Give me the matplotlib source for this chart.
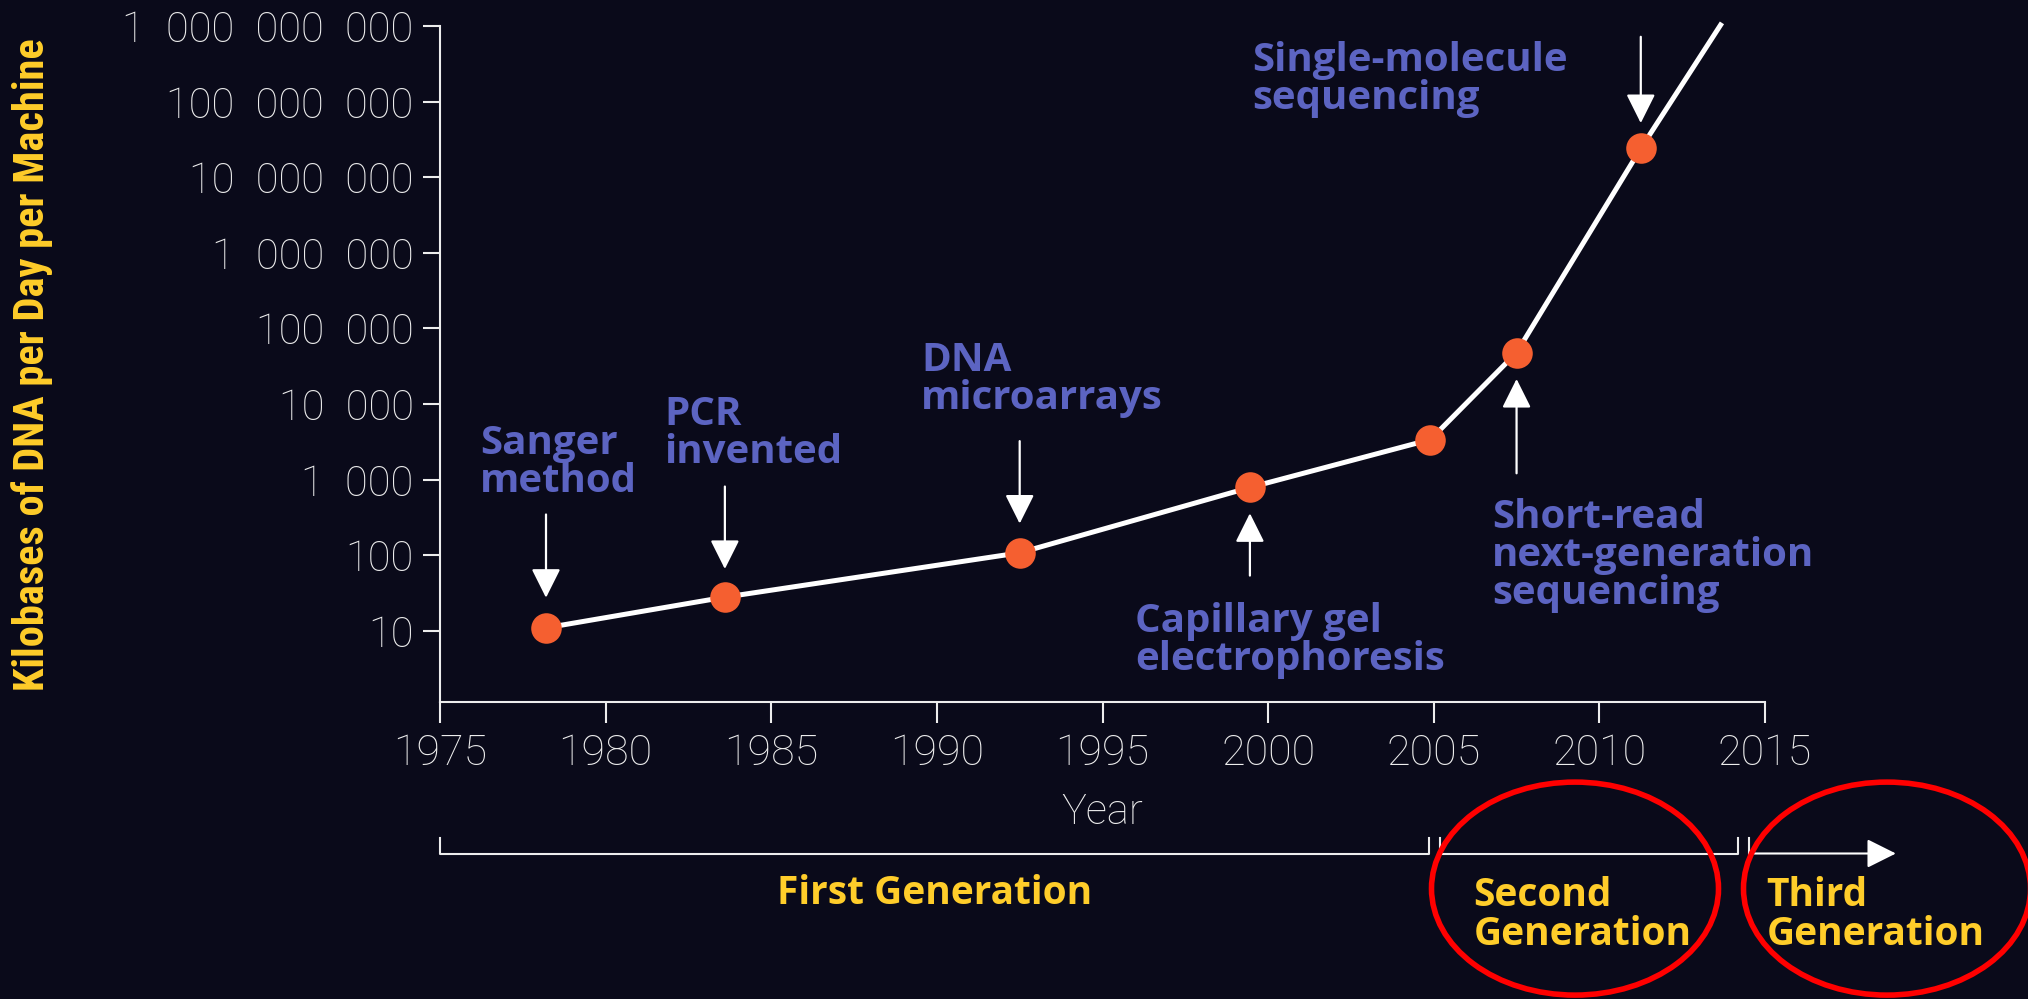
import matplotlib
matplotlib.use("Agg")
import matplotlib.pyplot as plt
import matplotlib.transforms as mtransforms
from matplotlib.patches import Ellipse
from matplotlib.ticker import FixedLocator, FuncFormatter

# ---------------- data ----------------
years = [1978.2, 1983.6, 1992.5, 1999.45, 2004.9, 2007.5, 2011.25, 2013.7]
kb_per_day = [11, 28, 108, 790, 3400, 48000, 2.4e7, 1.1e9]
marker_mask = [True, True, True, True, True, True, True, False]

x_ticks = [1975, 1980, 1985, 1990, 1995, 2000, 2005, 2010, 2015]
y_ticks = [1e1, 1e2, 1e3, 1e4, 1e5, 1e6, 1e7, 1e8, 1e9]

labels = ["Sanger\nmethod", "PCR\ninvented", "DNA\nmicroarrays",
          "Capillary gel\nelectrophoresis",
          "Short-read\nnext-generation\nsequencing",
          "Single-molecule\nsequencing"]
label_xy = [(1976.2, 10**3.74), (1981.76, 10**4.12), (1989.53, 10**4.84),
            (1995.98, 10**1.38), (2006.76, 10**2.76), (1999.53, 10**8.80)]
arrow_x = [1978.2, 1983.6, 1992.5, 1999.45, 2007.5, 2011.25]
arrow_tail = [347, 813, 3240, 54, 1216, 7.2e8]
arrow_tip = [27.5, 66, 263, 360, 21500, 5.2e7]

generations = ["First Generation", "Second\nGeneration", "Third\nGeneration"]
gen_spans = [(1975.0, 2004.85), (2005.2, 2014.18), (2014.53, 2018.95)]

# ---------------- style ----------------
BG = "#0A0A1A"
WHITE = "#EDEDED"
ORANGE = "#F55F30"
BLUE = "#5C64C2"
YELLOW = "#FFCD2A"
BOLD_FAM = ["Open Sans", "DejaVu Sans"]
LIGHT_FAM = ["Roboto", "DejaVu Sans"]

fig = plt.figure(figsize=(20.28, 9.99), dpi=100, facecolor=BG)
ax = fig.add_axes([440/2028, 297/999, (1765-440)/2028, (702-26)/999])
ax.set_facecolor(BG)

ax.plot(years, kb_per_day, color="white", lw=3.6, zorder=3, clip_on=False,
        solid_capstyle="butt")
mx = [x for x, m in zip(years, marker_mask) if m]
my = [y for y, m in zip(kb_per_day, marker_mask) if m]
ax.plot(mx, my, "o", color=ORANGE, ms=22, mec="none", zorder=4, clip_on=False)

ax.set_yscale("log")
ax.set_xlim(1975, 2015)
ax.set_ylim(1.15, 1e9)

for s in ["top", "right"]:
    ax.spines[s].set_visible(False)
for s in ["left", "bottom"]:
    ax.spines[s].set_color(WHITE)
    ax.spines[s].set_linewidth(1.5)

ax.xaxis.set_major_locator(FixedLocator(x_ticks))
ax.yaxis.set_major_locator(FixedLocator(y_ticks))
ax.yaxis.set_minor_locator(FixedLocator([]))
ax.xaxis.set_major_formatter(FuncFormatter(lambda v, p: f"{int(v)}"))
ax.yaxis.set_major_formatter(
    FuncFormatter(lambda v, p: f"{int(round(v)):,}".replace(",", "\u2002")))
ax.tick_params(axis="x", colors=WHITE, length=15, width=1.5, pad=7,
               labelsize=31, labelcolor=WHITE)
ax.tick_params(axis="y", colors=WHITE, length=12, width=1.5, pad=7,
               labelsize=30, labelcolor=WHITE)
for t in ax.get_xticklabels() + ax.get_yticklabels():
    t.set_family(LIGHT_FAM)
    t.set_fontweight("light")

ax.set_xlabel("Year", color=WHITE, fontsize=30, fontweight="light",
              family=LIGHT_FAM, va="center")
ax.xaxis.set_label_coords(0.5, -0.163)

fig.text(32/2028, 1 - 365/999, "Kilobases of DNA per Day per Machine",
         rotation=90, color=YELLOW, fontsize=30.5, fontweight="bold",
         family=["DejaVu Sans Condensed", "Liberation Sans Narrow",
                 "Roboto Condensed", "Open Sans Condensed", "Roboto"],
         fontstretch="condensed", ha="center", va="center")

# annotations
for lab, (lx, ly), axx, y0, y1 in zip(labels, label_xy, arrow_x, arrow_tail, arrow_tip):
    ax.text(lx, ly, lab, color=BLUE, fontsize=29, fontweight="bold",
            family=BOLD_FAM, ha="left", va="top",
            linespacing=0.97, zorder=5, clip_on=False)
    ax.annotate("", xy=(axx, y1), xytext=(axx, y0),
                arrowprops=dict(arrowstyle="-|>,head_length=0.9,head_width=0.45",
                                color="white", lw=1.6, shrinkA=0, shrinkB=0,
                                mutation_scale=20),
                annotation_clip=False, zorder=5)

# generation brackets (x in data, y in figure coords)
trans = mtransforms.blended_transform_factory(ax.transData, fig.transFigure)
yb = 1 - 853.5/999
yt = 1 - 838/999
for i, (a, b) in enumerate(gen_spans):
    if i < 2:
        ax.plot([a, a, b, b], [yt, yb, yb, yt], color=WHITE, lw=1.5,
                transform=trans, clip_on=False)
    else:
        ax.plot([a, a], [yt, yb], color=WHITE, lw=1.5, transform=trans,
                clip_on=False)
        ax.annotate("", xy=(b, yb), xytext=(a, yb), xycoords=trans,
                    textcoords=trans,
                    arrowprops=dict(arrowstyle="-|>,head_length=0.9,head_width=0.45",
                                    color="white", lw=1.5, shrinkA=0, shrinkB=0,
                                    mutation_scale=20),
                    annotation_clip=False)

ax.text((gen_spans[0][0] + gen_spans[0][1]) / 2, 1 - 893/999, generations[0],
        transform=trans, color=YELLOW, fontsize=28, fontweight="bold",
        family=BOLD_FAM, ha="center", va="center")
ax.text(2006.2, 1 - 915/999, generations[1], transform=trans, color=YELLOW,
        fontsize=28, fontweight="bold", family=BOLD_FAM,
        ha="left", va="center", linespacing=0.97)
ax.text(2015.05, 1 - 915/999, generations[2], transform=trans, color=YELLOW,
        fontsize=28, fontweight="bold", family=BOLD_FAM,
        ha="left", va="center", linespacing=0.97)

# red highlight ellipses
for cx in [1575/2028, 1887/2028]:
    fig.add_artist(Ellipse((cx, 1 - 888.6/999), 287/2028, 213/999,
                           transform=fig.transFigure, fill=False,
                           edgecolor="#FF0000", lw=4))

fig.savefig("out.png", dpi=100, facecolor=BG)
